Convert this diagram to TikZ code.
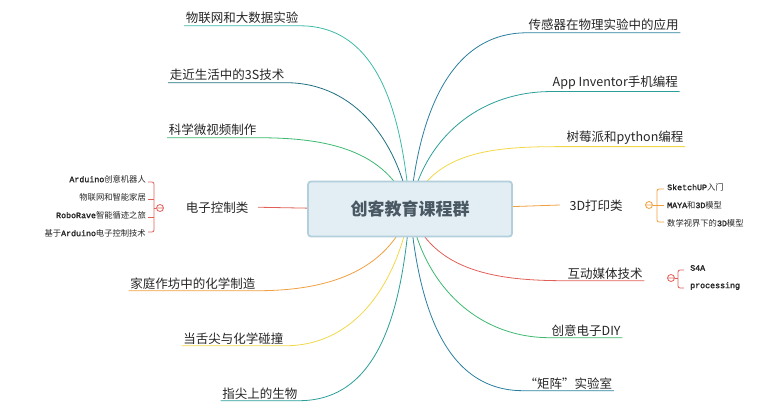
\documentclass[tikz,border=0pt]{standalone}
\usepackage{fontspec}
\setmainfont{Noto Sans CJK SC}
\newfontfamily\mono{Liberation Mono}[FakeBold=2]
\begin{document}
\begin{tikzpicture}[x=1pt,y=-1pt,
 lbl/.style={inner sep=1.5pt,font=\fontsize{12.5}{14}\selectfont,text=black!85,anchor=base},
 sub/.style={inner sep=0pt,font=\fontsize{8.3}{9}\selectfont,text=black!85},
 br/.style={line width=0.8pt,rounded corners=2pt},
 br2/.style={line width=0.9pt}]
\useasboundingbox (0,0) rectangle (776,417);
\definecolor{cA}{HTML}{3CBBA8}\definecolor{cB}{HTML}{1F7080}\definecolor{cC}{HTML}{3CB870}
\definecolor{cR}{HTML}{E06058}\definecolor{cO}{HTML}{F0A040}\definecolor{cY}{HTML}{F2D848}
\definecolor{cT}{HTML}{2A9E98}\definecolor{cD}{HTML}{2A7F9E}
\definecolor{boxf}{HTML}{E2EEF3}\definecolor{boxd}{HTML}{B3CFDB}\definecolor{boxt}{HTML}{4A5864}
\coordinate (hub) at (410,210);
% left
\node[lbl,anchor=base east] (l1) at (300,23) {物联网和大数据实验};
\node[lbl,anchor=base east] (l2) at (286,80) {走近生活中的3S技术};
\node[lbl,anchor=base east] (l3) at (258,135) {科学微视频制作};
\node[lbl,anchor=base east] (l4) at (250,212) {电子控制类};
\node[lbl,anchor=base east] (l5) at (257,288) {家庭作坊中的化学制造};
\node[lbl,anchor=base east] (l6) at (285,343) {当舌尖与化学碰撞};
\node[lbl,anchor=base east] (l7) at (299,398) {指尖上的生物};
% right
\node[lbl,anchor=base west] (r1) at (527,30) {传感器在物理实验中的应用};
\node[lbl,anchor=base west] (r2) at (551,87) {App Inventor手机编程};
\node[lbl,anchor=base west] (r3) at (565,142) {树莓派和python编程};
\node[lbl,anchor=base west] (r4) at (568,210) {3D打印类};
\node[lbl,anchor=base west] (r5) at (566,278) {互动媒体技术};
\node[lbl,anchor=base west] (r6) at (550,335) {创意电子DIY};
\node[lbl,anchor=base west] (r7) at (523,388) {“矩阵”实验室};
\foreach \n/\c/\o/\i in {l1/cA/0/95,l2/cB/0/100,l3/cC/0/110,l5/cO/0/-110,l6/cY/0/-100,l7/cT/0/-95}{
 \draw[\c,line width=0.8pt] (\n.south west)--(\n.south east) to[out=\o,in=\i] (hub);}
\foreach \n/\c/\i in {r1/cD/85,r2/cT/80,r3/cY/70,r5/cR/-70,r6/cC/-80,r7/cD/-85}{
 \draw[\c,line width=0.8pt] (\n.south east)--(\n.south west) to[out=180,in=\i] (hub);}
\draw[cR,line width=0.8pt] (l4.east)++(8,0) coordinate (l4e) -- (hub);
\draw[cO,line width=0.8pt] (hub) -- (560,205);
% center
\node[draw=boxd,line width=1.8pt,fill=boxf,rounded corners=3pt,minimum width=204pt,minimum height=55pt,font=\fontsize{17}{20}\selectfont\bfseries,text=boxt] (c) at (410,209) {创客教育课程群};
% left sub group
\node[sub,anchor=east] (s1) at (146,179) {{\mono Arduino}创意机器人};
\node[sub,anchor=east] (s2) at (146,197) {物联网和智能家居};
\node[sub,anchor=east] (s3) at (146,215) {{\mono RoboRave}智能循迹之旅};
\node[sub,anchor=east] (s4) at (146,233) {基于{\mono Arduino}电子控制技术};
\draw[cR,br] (148,182)-|(154,232)--(148,232);
\draw[cR,br2] (148,199)--(154,199) (148,217)--(154,217) (154,208)--(156,208);
\draw[cR,line width=0.8pt,fill=white] (160,208) circle (3.5) (157.5,208)--(162.5,208);
% 3D sub group
\node[sub,anchor=west] (t1) at (667,187) {{\mono SketchUP}入门};
\node[sub,anchor=west] (t2) at (667,205) {{\mono MAYA}和{\mono 3D}模型};
\node[sub,anchor=west] (t3) at (667,223) {数学视界下的{\mono 3D}模型};
\draw[cO,br] (664,189)-|(657,222)--(664,222);
\draw[cO,br2] (657,205)--(664,205) (653,205)--(657,205);
\draw[cO,line width=0.8pt,fill=white] (649,205) circle (3.5) (646.5,205)--(651.5,205);
% media sub group
\node[sub,anchor=west] (m1) at (690,268) {{\mono S4A}};
\node[sub,anchor=west] (m2) at (690,286) {{\mono processing}};
\draw[cR,br] (684,270)-|(678,288)--(684,288);
\draw[cR,line width=0.8pt,fill=white] (671,278) circle (3.5) (668.5,278)--(673.5,278);
\draw[cR,line width=0.8pt] (674.5,278)--(678,278);
\end{tikzpicture}
\end{document}
